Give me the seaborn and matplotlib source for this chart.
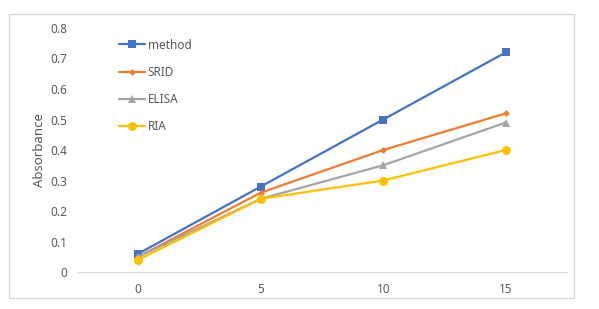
import pandas as pd
import matplotlib.pyplot as plt
import seaborn as sns
from matplotlib.patches import Rectangle

# data
x_vals = [0, 5, 10, 15]
method = [0.06, 0.28, 0.50, 0.72]
srid = [0.05, 0.26, 0.40, 0.52]
elisa = [0.05, 0.24, 0.35, 0.49]
ria = [0.04, 0.24, 0.30, 0.40]
series_names = ["method", "SRID", "ELISA", "RIA"]

df = pd.DataFrame({
    "x": x_vals * 4,
    "y": method + srid + elisa + ria,
    "series": sum([[n] * 4 for n in series_names], []),
})

sns.set_style("white")
plt.rcParams['font.family'] = ['Noto Sans', 'DejaVu Sans']

palette = {"method": "#4472C4", "SRID": "#ED7D31", "ELISA": "#A5A5A5", "RIA": "#FFC000"}
markers = {"method": "s", "SRID": "D", "ELISA": "^", "RIA": "o"}
sizes = {"method": 6, "SRID": 3.5, "ELISA": 6, "RIA": 6.5}

fig = plt.figure(figsize=(5.99, 3.09), dpi=100)
ax = fig.add_axes([0.1285, 0.1197, 0.818, 0.7897])

sns.lineplot(data=df, x="x", y="y", hue="series", style="series",
             palette=palette, markers=markers, dashes=False,
             linewidth=1.6, markeredgewidth=0, ax=ax)
# adjust marker sizes per series (lines come in hue order)
for line, name in zip(ax.get_lines()[:4], series_names):
    line.set_markersize(sizes[name])

ax.set_xlim(-2.5, 17.5)
ax.set_ylim(0, 0.8)
ax.set_xticks(x_vals)
ax.set_yticks([0, 0.1, 0.2, 0.3, 0.4, 0.5, 0.6, 0.7, 0.8])
ax.set_yticklabels(["0", "0.1", "0.2", "0.3", "0.4", "0.5", "0.6", "0.7", "0.8"])
ax.tick_params(colors="#595959", labelsize=8.5, length=0)
ax.tick_params(axis="y", pad=7)
ax.tick_params(axis="x", pad=8)
for s in ["top", "right", "left"]:
    ax.spines[s].set_visible(False)
ax.spines["bottom"].set_color("#D9D9D9")
ax.set_xlabel("")
ax.set_ylabel("Absorbance", color="#595959", fontsize=9.5, labelpad=3)

handles, labels = ax.get_legend_handles_labels()
for h in handles:
    if h.get_label() in sizes:
        h.set_markersize(sizes[h.get_label()])
leg = ax.legend(handles, labels, loc="upper left", bbox_to_anchor=(0.065, 1.0),
                frameon=False, fontsize=8.5, labelspacing=1.2,
                handlelength=2.2, handletextpad=0.2)
for t in leg.get_texts():
    t.set_color("#595959")

fig.patches.append(Rectangle((9 / 599, 1 - 298 / 309), 565 / 599, 284 / 309,
                             transform=fig.transFigure, fill=False,
                             edgecolor="#D9D9D9", linewidth=1))

plt.savefig("out.png", dpi=100)
plt.close()
